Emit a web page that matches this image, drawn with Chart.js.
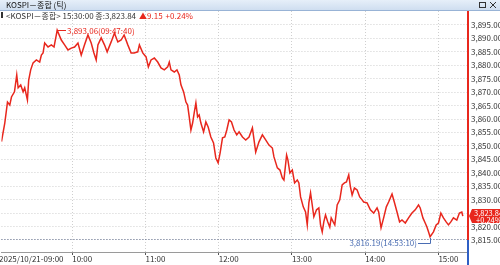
<!DOCTYPE html>
<html>
<head>
<meta charset="utf-8">
<script src="https://cdn.jsdelivr.net/npm/chart.js@4.4.1/dist/chart.umd.min.js"></script>
<style>
  html, body { margin: 0; padding: 0; background: #fff; }
  #wrap { width: 500px; height: 265px; }
</style>
</head>
<body>
<div id="wrap"><canvas id="chart" width="500" height="265"></canvas></div>
<script>
// 체결 시각
const times = [
  '09:02:02', '09:04:44', '09:06:57', '09:08:49', '09:10:13', '09:12:40', '09:14:32', '09:15:41', '09:17:48', '09:19:46',
  '09:21:04', '09:23:17', '09:24:20', '09:25:58', '09:27:56', '09:30:38', '09:33:20', '09:34:43', '09:36:06', '09:37:25',
  '09:40:11', '09:42:53', '09:45:05', '09:46:58', '09:47:40', '09:51:03', '09:53:45', '09:56:31', '09:59:13', '10:01:55',
  '10:04:41', '10:07:23', '10:10:05', '10:12:52', '10:15:33', '10:17:46', '10:19:38', '10:21:02', '10:23:43', '10:26:25',
  '10:28:37', '10:31:53', '10:34:35', '10:37:22', '10:40:04', '10:42:31', '10:45:32', '10:48:14', '10:50:41', '10:53:42',
  '10:55:01', '10:57:47', '11:00:29', '11:02:22', '11:04:34', '11:07:16', '11:10:02', '11:12:44', '11:15:26', '11:18:13',
  '11:19:31', '11:20:54', '11:23:35', '11:25:48', '11:27:41', '11:29:04', '11:31:16', '11:33:09', '11:34:32', '11:35:51',
  '11:37:14', '11:38:37', '11:39:56', '11:41:19', '11:42:43', '11:44:01', '11:45:24', '11:47:37', '11:49:29', '11:51:22',
  '11:53:34', '11:55:46', '11:57:39', '11:59:32', '12:01:10', '12:03:07', '12:05:00', '12:06:38', '12:08:31', '12:10:28',
  '12:12:35', '12:14:48', '12:16:41', '12:19:28', '12:22:09', '12:24:51', '12:27:37', '12:30:19', '12:33:01', '12:35:47',
  '12:38:29', '12:41:11', '12:43:58', '12:45:16', '12:48:03', '12:50:10', '12:52:08', '12:53:26', '12:55:38', '12:56:42',
  '12:58:20', '13:00:18', '13:02:11', '13:04:23', '13:05:41', '13:07:05', '13:09:17', '13:11:10', '13:12:33', '13:13:52',
  '13:15:15', '13:16:38', '13:17:57', '13:20:09', '13:22:02', '13:23:25', '13:24:49', '13:26:07', '13:27:31', '13:29:23',
  '13:31:01', '13:32:10', '13:33:48', '13:35:07', '13:37:04', '13:39:11', '13:41:09', '13:43:02', '13:44:40', '13:46:32',
  '13:47:56', '13:49:19', '13:51:12', '13:53:24', '13:55:32', '13:57:29', '13:58:48', '14:01:34', '14:04:16', '14:06:58',
  '14:09:44', '14:11:03', '14:13:01', '14:15:08', '14:17:20', '14:19:13', '14:22:00', '14:23:52', '14:26:05', '14:28:12',
  '14:30:10', '14:32:52', '14:35:33', '14:38:20', '14:41:01', '14:43:43', '14:45:06', '14:47:19', '14:49:11', '14:50:35',
  '14:51:53', '14:53:10', '14:55:58', '14:58:11', '15:00:04', '15:02:01', '15:04:08', '15:06:21', '15:08:14', '15:10:11',
  '15:12:19', '15:15:05', '15:17:13', '15:19:11', '15:20:00'
];

// KOSPI 지수
const prices = [
  3851.6, 3858.5, 3866.3, 3865.2, 3868.2, 3870.1, 3876.4, 3871.6, 3872.7, 3870.1,
  3871.6, 3867.1, 3874.5, 3878.3, 3880.9, 3882.0, 3881.2, 3883.8, 3884.6, 3888.3,
  3886.8, 3887.6, 3886.8, 3891.3, 3893.06, 3889.4, 3887.6, 3885.7, 3886.4, 3886.8,
  3888.3, 3883.8, 3887.6, 3891.3, 3888.3, 3884.6, 3882.0, 3887.6, 3890.2, 3887.6,
  3885.0, 3888.7, 3892.0, 3888.7, 3889.4, 3891.3, 3887.6, 3884.6, 3884.6, 3885.0,
  3887.6, 3884.6, 3883.1, 3879.4, 3882.0, 3882.7, 3881.2, 3879.0, 3878.3, 3879.4,
  3881.2, 3878.3, 3877.5, 3878.3, 3876.4, 3872.7, 3870.1, 3866.3, 3865.2, 3860.8,
  3855.9, 3858.5, 3862.3, 3866.0, 3860.8, 3861.5, 3858.5, 3855.2, 3858.9, 3857.0,
  3853.3, 3851.1, 3845.5, 3843.7, 3847.4, 3853.0, 3853.3, 3855.9, 3859.7, 3858.9,
  3855.9, 3854.1, 3855.2, 3853.3, 3852.2, 3853.3, 3856.7, 3847.7, 3851.5, 3854.1,
  3852.2, 3850.3, 3849.2, 3845.9, 3841.8, 3841.0, 3838.1, 3837.3, 3846.6, 3844.8,
  3839.9, 3841.0, 3836.2, 3837.3, 3836.2, 3831.0, 3827.3, 3825.4, 3820.6, 3828.8,
  3832.5, 3828.0, 3823.6, 3826.2, 3826.9, 3820.6, 3818.0, 3821.7, 3824.3, 3821.7,
  3819.8, 3823.2, 3821.7, 3820.6, 3828.0, 3829.9, 3835.5, 3836.2, 3836.6, 3839.2,
  3834.7, 3831.7, 3834.3, 3833.6, 3831.0, 3829.9, 3829.1, 3828.8, 3826.2, 3825.0,
  3826.9, 3825.4, 3819.5, 3823.2, 3827.3, 3829.1, 3832.1, 3829.1, 3825.4, 3821.7,
  3822.4, 3821.3, 3823.2, 3825.0, 3826.2, 3828.0, 3826.9, 3823.2, 3821.3, 3819.8,
  3818.0, 3816.19, 3818.0, 3820.6, 3821.3, 3825.0, 3823.2, 3821.7, 3820.6, 3821.7,
  3823.2, 3822.4, 3825.0, 3825.4, 3823.84
];

// 축 눈금
const xTickTimes = ['09:00:00', '10:00:00', '11:00:00', '12:00:00', '13:00:00', '14:00:00', '15:00:00'];
const xTickLabels = ['2025/10/21-09:00', '10:00', '11:00', '12:00', '13:00', '14:00', '15:00'];
const yTicks = [3815, 3820, 3825, 3830, 3835, 3840, 3845, 3850, 3855, 3860, 3865, 3870, 3875, 3880, 3885, 3890, 3895];

// 상단 정보
const titleText = 'KOSPI－종합 (틱)';
const infoText = '<KOSPI－종합> 15:30:00 종:3,823.84';
const changeText = '▲9.15';
const changePctText = '+0.24%';

const FONT = '"Liberation Sans Narrow", "Noto Sans CJK KR", sans-serif';
const RED = '#e8271d';
const BLUE = '#4a6db3';

function toMin(s) {
  const [h, m, sec] = s.split(':').map(Number);
  return (h - 9) * 60 + m + sec / 60;
}

function fmt(n) {
  return n.toFixed(2).replace(/\B(?=(\d{3})+(?!\d))/g, ',');
}

const points = times.map((t, i) => ({ x: toMin(t), y: prices[i] }));

const overlay = {
  id: 'overlay',
  afterDraw(chart) {
    const { ctx, chartArea: a, scales: { x, y } } = chart;
    ctx.save();

    // 고가 / 저가 표시
    let hi = 0, lo = 0;
    prices.forEach((p, i) => {
      if (p > prices[hi]) hi = i;
      if (p < prices[lo]) lo = i;
    });
    ctx.font = '8px ' + FONT;
    ctx.textBaseline = 'middle';
    ctx.lineWidth = 1;

    const hx = Math.round(x.getPixelForValue(points[hi].x));
    const hy = Math.round(y.getPixelForValue(prices[hi]));
    ctx.strokeStyle = RED;
    ctx.beginPath();
    ctx.moveTo(hx + 0.5, hy + 2);
    ctx.lineTo(hx + 0.5, hy + 0.5);
    ctx.lineTo(hx + 9, hy + 0.5);
    ctx.stroke();
    ctx.fillStyle = RED;
    ctx.textAlign = 'left';
    ctx.fillText(fmt(prices[hi]) + '(' + times[hi] + ')', hx + 10, hy + 1);

    const lx = Math.round(x.getPixelForValue(points[lo].x));
    const ly = Math.round(y.getPixelForValue(prices[lo]));
    ctx.strokeStyle = BLUE;
    ctx.beginPath();
    ctx.moveTo(lx - 12, ly + 6.5);
    ctx.lineTo(lx + 0.5, ly + 6.5);
    ctx.lineTo(lx + 0.5, ly + 1);
    ctx.stroke();
    ctx.fillStyle = BLUE;
    ctx.textAlign = 'right';
    ctx.fillText(fmt(prices[lo]) + '(' + times[lo] + ')', lx - 13, ly + 6);

    // 오른쪽 축 아래쪽 파란 선
    const by = y.getPixelForValue(yTicks[0]);
    ctx.strokeStyle = '#2f5fc4';
    ctx.lineWidth = 2;
    ctx.beginPath();
    ctx.moveTo(a.right, by);
    ctx.lineTo(a.right, chart.height);
    ctx.stroke();

    // 현재가 표시
    const last = prices[prices.length - 1];
    const cy = Math.round(y.getPixelForValue(last));
    ctx.fillStyle = RED;
    ctx.beginPath();
    ctx.moveTo(a.right + 1, cy);
    ctx.lineTo(a.right + 4, cy - 7);
    ctx.lineTo(chart.width, cy - 7);
    ctx.lineTo(chart.width, cy + 7);
    ctx.lineTo(a.right + 4, cy + 7);
    ctx.closePath();
    ctx.fill();
    ctx.fillStyle = '#fff';
    ctx.textAlign = 'left';
    ctx.font = '7.5px ' + FONT;
    ctx.fillText(fmt(last), a.right + 6, cy - 3);
    ctx.fillText(changePctText, a.right + 8, cy + 4);

    // 제목 표시줄
    const g = ctx.createLinearGradient(0, 0, 0, 10);
    g.addColorStop(0, '#e6eff9');
    g.addColorStop(1, '#cfdef0');
    ctx.fillStyle = g;
    ctx.fillRect(0, 0, chart.width, 10);
    ctx.fillStyle = '#98b3d6';
    ctx.fillRect(0, 10, chart.width, 1);
    ctx.fillStyle = '#111';
    ctx.font = '8px ' + FONT;
    ctx.textAlign = 'left';
    ctx.fillText(titleText, 6, 5);
    ctx.strokeStyle = '#333';
    ctx.lineWidth = 1;
    ctx.strokeRect(479.5, 2.5, 6, 5);
    ctx.beginPath();
    ctx.moveTo(490, 2); ctx.lineTo(496, 8);
    ctx.moveTo(496, 2); ctx.lineTo(490, 8);
    ctx.stroke();

    // 정보 줄
    ctx.fillStyle = '#333';
    ctx.fillRect(1, 12, 2, 6);
    ctx.fillText(infoText, 6, 15.5);
    let ix = 6 + ctx.measureText(infoText).width + 3;
    ctx.fillStyle = RED;
    ctx.fillText(changeText, ix, 15.5);
    ix += ctx.measureText(changeText).width + 3;
    ctx.fillText(changePctText, ix, 15.5);

    ctx.restore();
  }
};

new Chart(document.getElementById('chart'), {
  type: 'line',
  data: {
    datasets: [{
      data: points,
      borderColor: RED,
      borderWidth: 1.5,
      pointRadius: 0,
      tension: 0,
      fill: false
    }]
  },
  options: {
    responsive: false,
    animation: false,
    devicePixelRatio: 1,
    layout: { padding: { top: 11, left: 0, right: 0, bottom: 0 } },
    plugins: { legend: { display: false }, tooltip: { enabled: false } },
    scales: {
      x: {
        type: 'linear',
        min: 2.0,
        max: 384.25,
        afterBuildTicks(scale) {
          scale.ticks = xTickTimes.map(t => ({ value: toMin(t) }));
        },
        afterFit(scale) { scale.height = 13; },
        grid: {
          color: ctx => ctx.index === 0 ? 'rgba(0,0,0,0)' : '#cfcfcf',
          tickColor: ctx => ctx.index === 0 ? 'rgba(0,0,0,0)' : '#555',
          tickBorderDash: [],
          tickLength: 3
        },
        border: { color: '#9a9a9a', width: 1, dash: [1, 2] },
        ticks: {
          autoSkip: false,
          maxRotation: 0,
          align: 'start',
          padding: -1,
          color: '#333',
          font: { family: FONT, size: 8 },
          callback: (v, i) => xTickLabels[i]
        }
      },
      y: {
        position: 'right',
        min: 3810.5,
        max: 3900.2,
        afterBuildTicks(scale) {
          scale.ticks = yTicks.map(v => ({ value: v }));
        },
        afterFit(scale) { scale.width = 32; },
        grid: {
          color: ctx => ctx.tick && ctx.tick.value === yTicks[0] ? '#4d5a7a' : '#cfcfcf',
          drawTicks: false
        },
        border: { color: RED, width: 2, dash: [1, 2] },
        ticks: {
          padding: 3,
          color: '#333',
          font: { family: FONT, size: 8 },
          callback: v => fmt(v)
        }
      }
    }
  },
  plugins: [overlay]
});
</script>
</body>
</html>
